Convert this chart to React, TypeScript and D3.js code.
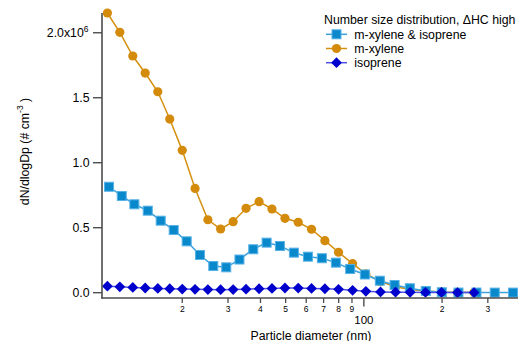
import React from "react";
import * as d3 from "d3";

// Particle number size distributions (dN/dlogDp, in units of 1e6 cm^-3)
const diamXyl: number[] = [
  10.3, 11.5, 12.9, 14.4, 16.1, 17.9, 20.0, 22.4, 25.1, 28.1, 31.4, 35.2, 39.5, 44.3,
  49.7, 55.9, 62.9, 70.8, 79.9, 90.5, 101.8, 115.9, 132.4, 150.7, 172.7, 199.0, 229.3, 265.6,
];
const mXylene: number[] = [
  2.152, 2.003, 1.821, 1.69, 1.546, 1.336, 1.095, 0.802, 0.561, 0.49, 0.546, 0.649, 0.7, 0.644,
  0.572, 0.542, 0.488, 0.4, 0.311, 0.223, 0.144, 0.085, 0.045, 0.025, 0.012, 0.006, 0.003, 0.002,
];
const isoprene: number[] = [
  0.05, 0.045, 0.04, 0.036, 0.033, 0.03, 0.028, 0.026, 0.024, 0.023, 0.024, 0.027, 0.03, 0.033,
  0.036, 0.035, 0.033, 0.03, 0.026, 0.018, 0.01, 0.006, 0.004, 0.003, 0.002, 0.002, 0.001, 0.001,
];
const diamMix: number[] = [
  10.45, 11.7, 13.08, 14.73, 16.52, 18.54, 20.8, 23.4, 26.33, 29.54, 33.2, 37.52, 42.24, 47.53,
  53.8, 60.9, 68.94, 78.03, 88.58, 100.9, 115.2, 131.3, 150.3, 173.2, 199.5, 231.3, 271.3, 319.0, 375.2,
];
const mixed: number[] = [
  0.815, 0.744, 0.68, 0.631, 0.554, 0.482, 0.395, 0.29, 0.205, 0.195, 0.255, 0.334, 0.385, 0.359,
  0.308, 0.277, 0.265, 0.231, 0.182, 0.14, 0.092, 0.059, 0.034, 0.013, 0.003, 0.001, 0.001, 0.0005, 0.0005,
];

const yTicks: number[] = [0, 0.5, 1.0, 1.5, 2.0];
const xMinorTicks: number[] = [20, 30, 40, 50, 60, 70, 80, 90, 200, 300];
const xMajorTicks: number[] = [100];
const legendTitle = "Number size distribution, \u0394HC high";
const seriesNames: string[] = ["m-xylene & isoprene", "m-xylene", "isoprene"];

const W = 518;
const H = 341;
const FONT = "'Liberation Sans', Arial, sans-serif";
const AXIS = "#4d4d4d";

const ORANGE = "#d48a0a";
const ORANGE_LINE = "#d4900f";
const SKY = "#0a88cc";
const SKY_EDGE = "#55b2e6";
const SKY_LINE = "#3ba2de";
const NAVY = "#0000cc";
const NAVY_LINE = "#4f4fe6";

const x = d3.scaleLog().domain([9.82, 392]).range([102, 518]);
const y = d3.scaleLinear().domain([-0.041, 2.152]).range([298, 13]);

type Pt = [number, number];
const zip = (xs: number[], ys: number[]): Pt[] => xs.map((d, i) => [d, ys[i]]);

const line = d3
  .line<Pt>()
  .x((p) => x(p[0]))
  .y((p) => y(p[1]));

const Square = ({ cx, cy, s = 9 }: { cx: number; cy: number; s?: number }) => (
  <rect x={cx - s / 2} y={cy - s / 2} width={s} height={s} fill={SKY} stroke={SKY_EDGE} strokeWidth={1} />
);
const Dot = ({ cx, cy, r = 4.6 }: { cx: number; cy: number; r?: number }) => (
  <circle cx={cx} cy={cy} r={r} fill={ORANGE} />
);
const Diamond = ({ cx, cy, r = 5.4 }: { cx: number; cy: number; r?: number }) => (
  <path d={`M${cx},${cy - r}L${cx + r},${cy}L${cx},${cy + r}L${cx - r},${cy}Z`} fill={NAVY} />
);

export default function App() {
  const xylPts = zip(diamXyl, mXylene);
  const isoPts = zip(diamXyl, isoprene);
  const mixPts = zip(diamMix, mixed);

  const legendY = [34.3, 48.5, 62.7];

  return (
    <svg
      width={W}
      height={H}
      style={{ position: "absolute", left: 0, top: 0, background: "#fff" }}
      fontFamily={FONT}
    >
      {/* m-xylene */}
      <path d={line(xylPts) ?? ""} fill="none" stroke={ORANGE_LINE} strokeWidth={1.5} />
      {xylPts.map((p, i) => (
        <Dot key={`o${i}`} cx={x(p[0])} cy={y(p[1])} />
      ))}

      {/* m-xylene & isoprene */}
      <path d={line(mixPts) ?? ""} fill="none" stroke={SKY_LINE} strokeWidth={1.5} />
      {mixPts.map((p, i) => (
        <Square key={`s${i}`} cx={x(p[0])} cy={y(p[1])} />
      ))}

      {/* isoprene */}
      <path d={line(isoPts) ?? ""} fill="none" stroke={NAVY_LINE} strokeWidth={1.5} />
      {isoPts.map((p, i) => (
        <Diamond key={`d${i}`} cx={x(p[0])} cy={y(p[1])} />
      ))}

      {/* axes */}
      <line x1={102} x2={102} y1={13} y2={298.5} stroke={AXIS} strokeWidth={1.6} />
      <line x1={101.2} x2={518} y1={298} y2={298} stroke={AXIS} strokeWidth={1.6} />

      {yTicks.map((t) => (
        <g key={`yt${t}`}>
          <line x1={93} x2={102} y1={y(t)} y2={y(t)} stroke={AXIS} strokeWidth={1.4} />
          {t === 2.0 ? (
            <text x={88.5} y={y(t) + 4.4} textAnchor="end" fontSize={12.3} fill="#000">
              2.0x10
              <tspan fontSize={8.5} dy={-5.5}>
                6
              </tspan>
            </text>
          ) : (
            <text x={89.5} y={y(t) + 4.4} textAnchor="end" fontSize={12.3} fill="#000">
              {t.toFixed(1)}
            </text>
          )}
        </g>
      ))}

      {xMinorTicks.map((t) => (
        <g key={`xm${t}`}>
          <line x1={x(t)} x2={x(t)} y1={298} y2={303} stroke={AXIS} strokeWidth={1.3} />
          <text x={x(t)} y={311.5} textAnchor="middle" fontSize={8.5} fill="#000">
            {String(t).charAt(0)}
          </text>
        </g>
      ))}
      {xMajorTicks.map((t) => (
        <g key={`xM${t}`}>
          <line x1={x(t)} x2={x(t)} y1={298} y2={306.5} stroke={AXIS} strokeWidth={1.4} />
          <text x={x(t)} y={323.5} textAnchor="middle" fontSize={11.5} fill="#000">
            {t}
          </text>
        </g>
      ))}

      {/* axis titles */}
      <text x={311} y={339.5} textAnchor="middle" fontSize={12.3} fill="#000">
        Particle diameter (nm)
      </text>
      <text
        transform="translate(28.5,151.5) rotate(-90)"
        textAnchor="middle"
        fontSize={12.3}
        fill="#000"
      >
        dN/dlogDp (# cm
        <tspan fontSize={8.5} dy={-5.5}>
          -3
        </tspan>
        <tspan dy={5.5}> )</tspan>
      </text>

      {/* legend */}
      <text x={324} y={24.4} fontSize={12.3} fill="#000">
        {legendTitle}
      </text>
      {seriesNames.map((name, i) => {
        const ly = legendY[i];
        const stroke = i === 0 ? SKY_LINE : i === 1 ? ORANGE_LINE : NAVY_LINE;
        return (
          <g key={name}>
            <line x1={326} x2={347} y1={ly} y2={ly} stroke={stroke} strokeWidth={1.5} />
            {i === 0 && <Square cx={336.5} cy={ly} />}
            {i === 1 && <Dot cx={336.5} cy={ly} />}
            {i === 2 && <Diamond cx={336.5} cy={ly} />}
            <text x={354.3} y={ly + 4.4} fontSize={12.3} fill="#000">
              {name}
            </text>
          </g>
        );
      })}
    </svg>
  );
}
